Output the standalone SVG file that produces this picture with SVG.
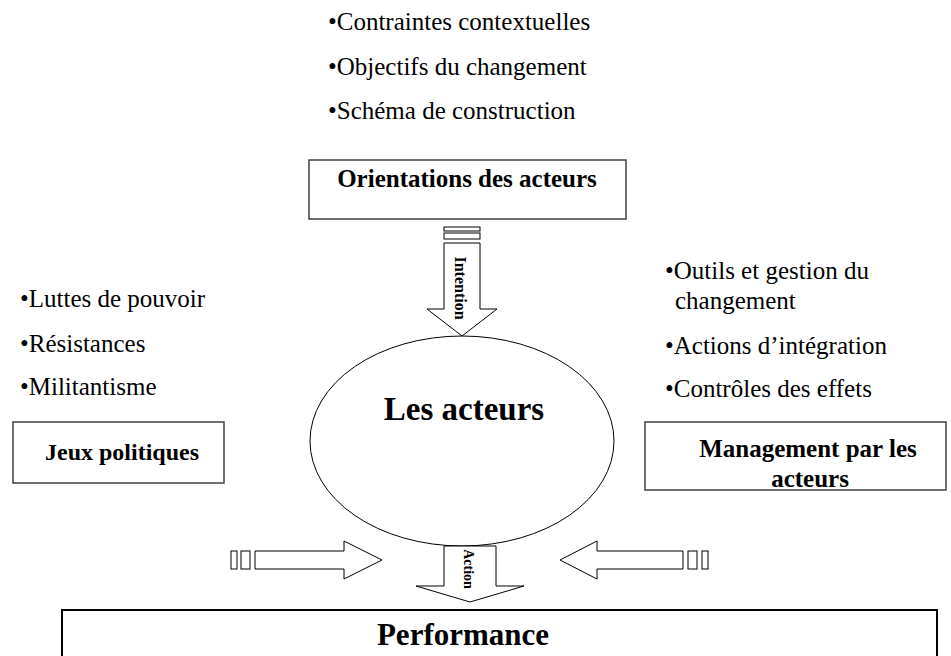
<svg xmlns="http://www.w3.org/2000/svg" width="951" height="656" viewBox="0 0 951 656">
<style>
.t{font-family:"Liberation Serif","Times New Roman",serif;font-size:25px;fill:#000}
.b{font-family:"Liberation Serif","Times New Roman",serif;font-weight:bold;fill:#000}
.box{fill:#fff;stroke:#404040;stroke-width:1.5}
.ar{fill:#fff;stroke:#000;stroke-width:1}
</style>
<rect width="951" height="656" fill="#fff"/>
<g id="bullets-top">
<text class="t" x="328" y="30">•Contraintes contextuelles</text>
<text class="t" x="328" y="75">•Objectifs du changement</text>
<text class="t" x="328" y="119">•Schéma de construction</text>
</g>
<g id="bullets-left">
<text class="t" x="20" y="307">•Luttes de pouvoir</text>
<text class="t" x="20" y="352">•Résistances</text>
<text class="t" x="20" y="395">•Militantisme</text>
</g>
<g id="bullets-right">
<text class="t" x="665" y="279">•Outils et gestion du</text>
<text class="t" x="675" y="309">changement</text>
<text class="t" x="665" y="354">•Actions d’intégration</text>
<text class="t" x="665" y="397">•Contrôles des effets</text>
</g>
<g id="orientations">
<rect class="box" x="309" y="160" width="317" height="59"/>
<text class="b" x="467" y="187" font-size="25" text-anchor="middle">Orientations des acteurs</text>
</g>
<g id="acteurs">
<ellipse cx="462" cy="441" rx="152" ry="105" fill="#fff" stroke="#000" stroke-width="1"/>
<text class="b" x="464" y="420" font-size="33" text-anchor="middle">Les acteurs</text>
</g>
<g id="jeux">
<rect class="box" x="13" y="422" width="211" height="61"/>
<text class="b" x="122" y="460" font-size="24" text-anchor="middle">Jeux politiques</text>
</g>
<g id="management">
<rect class="box" x="645" y="422" width="301" height="68"/>
<text class="b" x="808" y="457" font-size="25" text-anchor="middle">Management par les</text>
<text class="b" x="810" y="487" font-size="25" text-anchor="middle">acteurs</text>
</g>
<g id="performance">
<rect x="62" y="610" width="875" height="60" fill="#fff" stroke="#000" stroke-width="2"/>
<text class="b" x="463" y="645" font-size="31" text-anchor="middle">Performance</text>
</g>
<g id="connectors">
<g id="intention">
<rect class="ar" x="444" y="227" width="36" height="4"/>
<rect class="ar" x="444" y="233" width="36" height="6"/>
<polygon class="ar" points="444,243 480,243 480,309 497,309 462,336 427,309 444,309"/>
<text class="b" font-size="16" text-anchor="middle" transform="translate(455,288) rotate(90)">Intention</text>
</g>
<g id="action">
<polygon class="ar" points="444,546 496,546 496,586 524,586 470,602 416,586 444,586"/>
<text class="b" font-size="14" text-anchor="middle" transform="translate(464,569) rotate(90)">Action</text>
</g>
<g id="left-arrow">
<rect class="ar" x="231" y="551" width="6" height="18"/>
<rect class="ar" x="241" y="551" width="9" height="18"/>
<polygon class="ar" points="255,551 344,551 344,541 382,560 344,579 344,569 255,569"/>
</g>
<g id="right-arrow">
<rect class="ar" x="702" y="551" width="6" height="18"/>
<rect class="ar" x="688" y="551" width="9" height="18"/>
<polygon class="ar" points="683,551 597,551 597,541 560,560 597,579 597,569 683,569"/>
</g>
</g>
</svg>
